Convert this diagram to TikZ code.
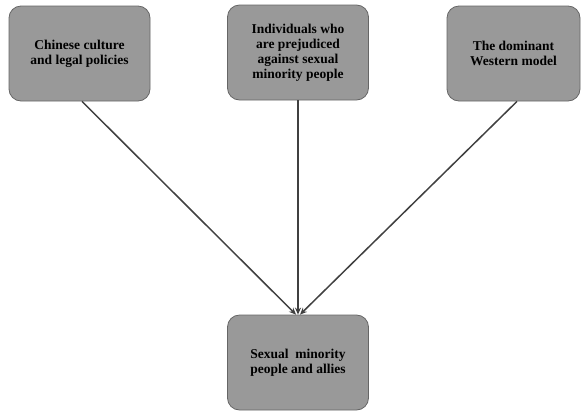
\documentclass[tikz,border=0pt]{standalone}
\usepackage{fontspec}
\newfontfamily\boxfont[BoldFont={Liberation Serif Bold}]{Liberation Serif}
\usetikzlibrary{arrows.meta}
\begin{document}
\begin{tikzpicture}[x=1pt,y=-1pt,
  box/.style={draw=black!60, line width=0.8pt, fill=black!40, rounded corners=12pt,
    minimum width=141pt, minimum height=95pt, align=center,
    font=\boxfont\bfseries\fontsize{13.5}{15}\selectfont, text=black, inner sep=2pt},
  link/.style={draw=black!75, line width=1.5pt, -{Stealth[length=7pt,width=6pt]}}]
\useasboundingbox (0,0) rectangle (581,413);
\node[box] (a) at (79.5,53.5) {Chinese culture\\and legal policies};
\node[box] (b) at (298,52.5) {Individuals who\\are prejudiced\\against sexual\\minority people};
\node[box, minimum width=133pt] (c) at (513.5,53.5) {The dominant\\Western model};
\node[box] (d) at (298,362.5) {Sexual\ \ minority\\people and allies};
\coordinate (a0) at ([xshift=2.5pt]a.south);
\coordinate (c0) at ([xshift=3.5pt]c.south);
\draw[link] (a0) -- ([xshift=-2pt]d.north);
\draw[link] (b.south) -- (d.north);
\draw[link] (c0) -- ([xshift=2pt]d.north);
\end{tikzpicture}
\end{document}
